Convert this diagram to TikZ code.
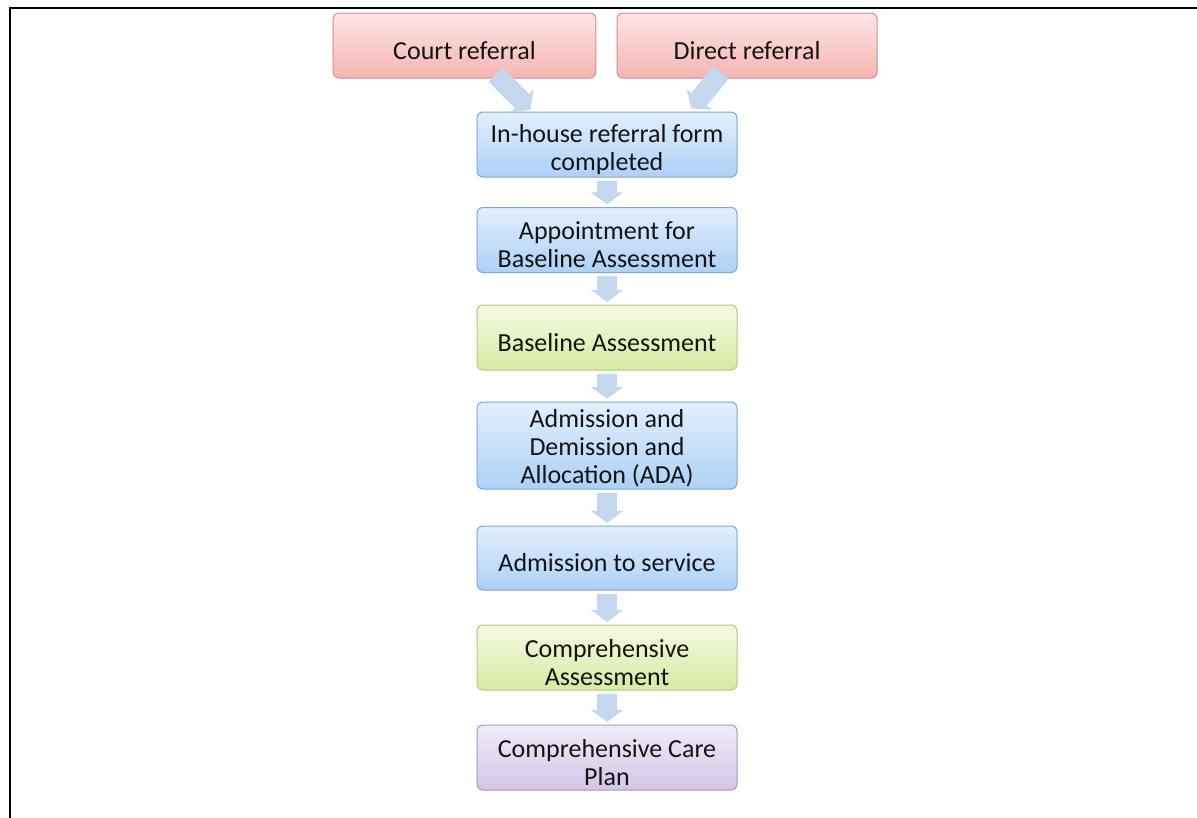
\documentclass[tikz,border=0pt]{standalone}
\usepackage{fontspec}
\setmainfont{Carlito}
\usetikzlibrary{arrows.meta,calc}
\definecolor{bluetop}{HTML}{E2EFFD}
\definecolor{bluebot}{HTML}{AED0F6}
\definecolor{bluedraw}{HTML}{7EA7D6}
\definecolor{redtop}{HTML}{FDE6E6}
\definecolor{redbot}{HTML}{F6B4B4}
\definecolor{reddraw}{HTML}{D98A8A}
\definecolor{greentop}{HTML}{F5FAE1}
\definecolor{greenbot}{HTML}{D6EAA4}
\definecolor{greendraw}{HTML}{AFCB78}
\definecolor{purpletop}{HTML}{F1EBF7}
\definecolor{purplebot}{HTML}{D3C5E8}
\definecolor{purpledraw}{HTML}{A894C7}
\definecolor{arrowcol}{HTML}{C4D7EE}
\definecolor{txt}{HTML}{141414}
\newcommand{\fs}{\rule{0pt}{\boxstrut}}
\tikzset{
  strut/.store in=\boxstrut, strut=20.5pt,
  box/.style={rounded corners=4.5pt, minimum width=195pt, minimum height=48.75pt,
    align=center, font=\fontsize{19.5}{21}\selectfont, text=txt, line width=0.75pt, inner sep=0pt},
  bluebox/.style={box, draw=bluedraw, top color=bluetop, bottom color=bluebot},
  redbox/.style={box, draw=reddraw, top color=redtop, bottom color=redbot},
  greenbox/.style={box, draw=greendraw, top color=greentop, bottom color=greenbot},
  purplebox/.style={box, draw=purpledraw, top color=purpletop, bottom color=purplebot},
  flowarrow/.style={draw=arrowcol, line width=15pt, -{Triangle[width=24pt,length=9pt]}},
  vflow/.style={flowarrow, shorten <=2.25pt, shorten >=2pt},
  frameline/.style={line width=1.5pt, draw=black}
}
\begin{document}
\begin{tikzpicture}[x=0.75pt,y=-0.75pt]
\useasboundingbox (0,0) rectangle (1197,818);
\fill[white] (0,0) rectangle (1197,818);
\draw[frameline] (10,818) -- (10,7.5) -- (1197,7.5);

\node[redbox, minimum width=197pt] (court) at (464.5,45.5) {\fs Court referral};
\node[redbox] (direct) at (747,45.5) {\fs Direct referral};
\node[bluebox] (inhouse) at (607,144.5) {\fs In-house referral form\\completed};
\node[bluebox] (appt) at (607,240) {\fs Appointment for\\Baseline Assessment};
\node[greenbox] (baseline) at (607,337.5) {\fs Baseline Assessment};
\node[bluebox, minimum height=65.25pt, strut=17.5pt] (ada) at (607,445.5) {\fs Admission and\\Demission and\\Allocation (ADA)};
\node[bluebox, minimum height=48pt] (admit) at (607,558) {\fs Admission to service};
\node[greenbox] (compass) at (607,657.5) {\fs Comprehensive\\Assessment};
\node[purplebox] (careplan) at (607,757.5) {\fs Comprehensive Care\\Plan};

\coordinate (c1) at ($(court.south)+(31,-4)$);
\coordinate (c2) at ($(inhouse.north west)+(54,-2)$);
\coordinate (d1) at ($(direct.south)+(-26,-6)$);
\coordinate (d2) at ($(inhouse.north east)+(-46,-3)$);
\draw[flowarrow] (c1) -- (c2);
\draw[flowarrow] (d1) -- (d2);

\draw[vflow] (inhouse.south) -- (appt.north);
\draw[vflow] (appt.south) -- (baseline.north);
\draw[vflow] (baseline.south) -- (ada.north);
\draw[vflow] (ada.south) -- (admit.north);
\draw[vflow] (admit.south) -- (compass.north);
\draw[vflow] (compass.south) -- (careplan.north);
\end{tikzpicture}
\end{document}
